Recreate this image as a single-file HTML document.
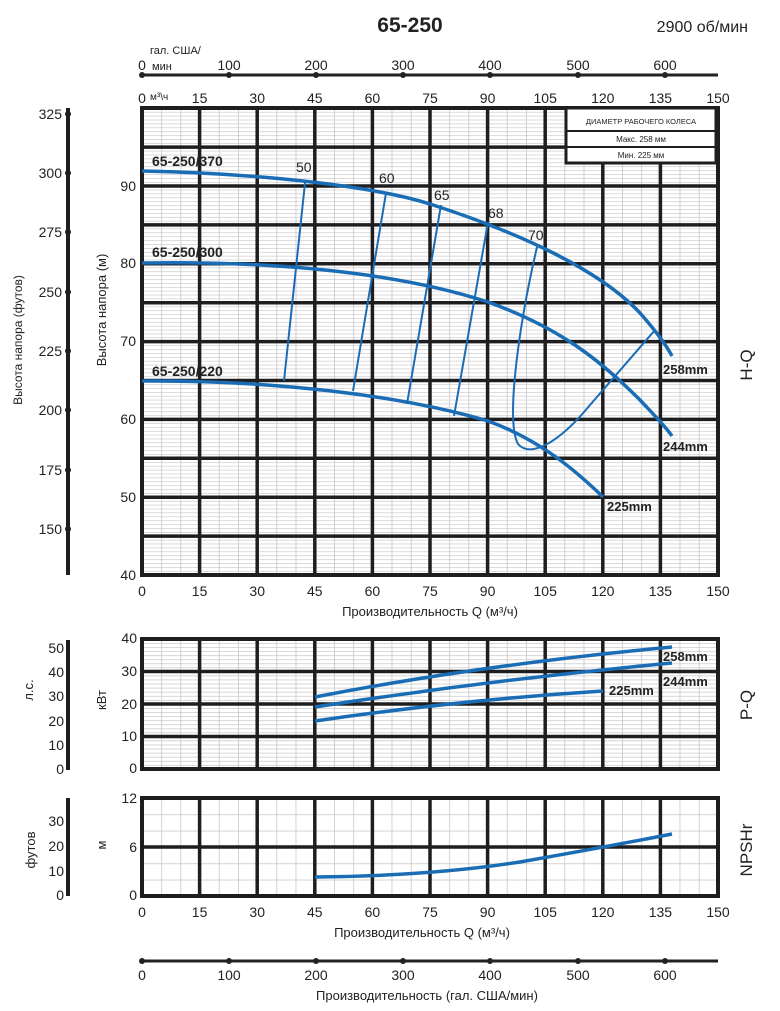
<!DOCTYPE html>
<html><head><meta charset="utf-8"><style>
html,body{margin:0;padding:0;background:#fff}
svg{display:block}
text{font-family:"Liberation Sans",sans-serif;fill:#222}
.t{font-size:14px}
.b{font-weight:bold}
</style></head><body>
<svg width="780" height="1011" viewBox="0 0 780 1011" xmlns="http://www.w3.org/2000/svg">
<defs>
<pattern id="gm" patternUnits="userSpaceOnUse" x="142" y="108" width="19.2" height="3.89"><line x1="0" y1="0" x2="19.2" y2="0" stroke="#c4c4c4" stroke-width="1.3"/><line x1="0" y1="0" x2="0" y2="3.89" stroke="#c4c4c4" stroke-width="1.5"/></pattern>
<pattern id="gp" patternUnits="userSpaceOnUse" x="142" y="639" width="19.2" height="4.0625"><line x1="0" y1="0" x2="19.2" y2="0" stroke="#c4c4c4" stroke-width="1.3"/><line x1="0" y1="0" x2="0" y2="4.0625" stroke="#c4c4c4" stroke-width="1.5"/></pattern>
<pattern id="gn" patternUnits="userSpaceOnUse" x="142" y="798" width="19.2" height="16.33"><line x1="0" y1="0" x2="19.2" y2="0" stroke="#c4c4c4" stroke-width="1.5"/><line x1="0" y1="0" x2="0" y2="16.33" stroke="#c4c4c4" stroke-width="1.5"/></pattern>
</defs>

<text x="410" y="32" text-anchor="middle" font-size="21" class="b">65-250</text>
<text x="748" y="32" text-anchor="end" font-size="16">2900 об/мин</text>

<!-- top gal axis -->
<text x="150" y="54" font-size="11">гал. США/</text>
<text x="152" y="70" font-size="11">мин</text>
<line x1="142" y1="75" x2="718" y2="75" stroke="#222" stroke-width="3"/>
<g fill="#222"><circle cx="142" cy="75" r="3"/><circle cx="229" cy="75" r="3"/><circle cx="316" cy="75" r="3"/><circle cx="403" cy="75" r="3"/><circle cx="490" cy="75" r="3"/><circle cx="578" cy="75" r="3"/><circle cx="665" cy="75" r="3"/></g>
<g class="t" text-anchor="middle"><text x="142" y="70">0</text><text x="229" y="70">100</text><text x="316" y="70">200</text><text x="403" y="70">300</text><text x="490" y="70">400</text><text x="578" y="70">500</text><text x="665" y="70">600</text></g>
<text x="150" y="100" font-size="10">м³\ч</text>
<g class="t" text-anchor="middle"><text x="142" y="103">0</text><text x="199.6" y="103">15</text><text x="257.2" y="103">30</text><text x="314.8" y="103">45</text><text x="372.4" y="103">60</text><text x="430" y="103">75</text><text x="487.6" y="103">90</text><text x="545.2" y="103">105</text><text x="602.8" y="103">120</text><text x="660.4" y="103">135</text><text x="718" y="103">150</text></g>

<!-- main grid -->
<rect x="142" y="108" width="576" height="467" fill="url(#gm)"/>
<g stroke="#1e1e1e" stroke-width="3.5">
<line x1="199.6" y1="108" x2="199.6" y2="575"/><line x1="257.2" y1="108" x2="257.2" y2="575"/><line x1="314.8" y1="108" x2="314.8" y2="575"/><line x1="372.4" y1="108" x2="372.4" y2="575"/><line x1="430" y1="108" x2="430" y2="575"/><line x1="487.6" y1="108" x2="487.6" y2="575"/><line x1="545.2" y1="108" x2="545.2" y2="575"/><line x1="602.8" y1="108" x2="602.8" y2="575"/><line x1="660.4" y1="108" x2="660.4" y2="575"/>
<line x1="142" y1="536.1" x2="718" y2="536.1"/><line x1="142" y1="497.2" x2="718" y2="497.2"/><line x1="142" y1="458.3" x2="718" y2="458.3"/><line x1="142" y1="419.4" x2="718" y2="419.4"/><line x1="142" y1="380.5" x2="718" y2="380.5"/><line x1="142" y1="341.6" x2="718" y2="341.6"/><line x1="142" y1="302.7" x2="718" y2="302.7"/><line x1="142" y1="263.8" x2="718" y2="263.8"/><line x1="142" y1="224.9" x2="718" y2="224.9"/><line x1="142" y1="186" x2="718" y2="186"/><line x1="142" y1="147.1" x2="718" y2="147.1"/>
</g>
<rect x="142" y="108" width="576" height="467" fill="none" stroke="#1e1e1e" stroke-width="4"/>
<g class="t" text-anchor="end"><text x="136" y="580">40</text><text x="136" y="502">50</text><text x="136" y="424">60</text><text x="136" y="346">70</text><text x="136" y="268">80</text><text x="136" y="191">90</text></g>
<g class="t" text-anchor="middle"><text x="142" y="596">0</text><text x="199.6" y="596">15</text><text x="257.2" y="596">30</text><text x="314.8" y="596">45</text><text x="372.4" y="596">60</text><text x="430" y="596">75</text><text x="487.6" y="596">90</text><text x="545.2" y="596">105</text><text x="602.8" y="596">120</text><text x="660.4" y="596">135</text><text x="718" y="596">150</text></g>
<text x="430" y="616" text-anchor="middle" font-size="13">Производительность Q (м³/ч)</text>

<!-- legend box -->
<rect x="566" y="108" width="150" height="55" fill="#fff" stroke="#1e1e1e" stroke-width="3"/>
<line x1="566" y1="131" x2="716" y2="131" stroke="#1e1e1e" stroke-width="2"/>
<line x1="566" y1="147" x2="716" y2="147" stroke="#1e1e1e" stroke-width="2"/>
<text x="641" y="124" text-anchor="middle" font-size="7.5">ДИАМЕТР РАБОЧЕГО КОЛЕСА</text>
<text x="641" y="142" text-anchor="middle" font-size="8">Макс. 258 мм</text>
<text x="641" y="158" text-anchor="middle" font-size="8">Мин. 225 мм</text>

<!-- feet axis -->
<line x1="68" y1="108" x2="68" y2="575" stroke="#1e1e1e" stroke-width="4"/>
<g fill="#1e1e1e"><circle cx="68" cy="114" r="3"/><circle cx="68" cy="173" r="3"/><circle cx="68" cy="232" r="3"/><circle cx="68" cy="292" r="3"/><circle cx="68" cy="351" r="3"/><circle cx="68" cy="410" r="3"/><circle cx="68" cy="470" r="3"/><circle cx="68" cy="529" r="3"/></g>
<g class="t" text-anchor="end"><text x="62" y="119">325</text><text x="62" y="178">300</text><text x="62" y="237">275</text><text x="62" y="297">250</text><text x="62" y="356">225</text><text x="62" y="415">200</text><text x="62" y="475">175</text><text x="62" y="534">150</text></g>
<text transform="translate(22,340) rotate(-90)" text-anchor="middle" font-size="12">Высота напора (футов)</text>
<text transform="translate(106,310) rotate(-90)" text-anchor="middle" font-size="13">Высота напора (м)</text>
<text transform="translate(752,365) rotate(-90)" text-anchor="middle" font-size="17">H-Q</text>

<!-- efficiency lines -->
<g fill="none" stroke="#1a6db5" stroke-width="2">
<path d="M305,183 L284,381"/>
<path d="M386,193 L353,391"/>
<path d="M441,205 L407,404"/>
<path d="M488,222 L454,416"/>
<path d="M537,247 C520,320 505,420 518,444 C530,458 558,444 590,405 L655,330"/>
</g>
<g class="t"><text x="296" y="172">50</text><text x="379" y="183">60</text><text x="434" y="200">65</text><text x="488" y="218">68</text><text x="528" y="240">70</text></g>

<!-- H-Q curves -->
<g fill="none" stroke="#1a6db5" stroke-width="3.5" stroke-linejoin="round">
<path d="M142,171 C250,173 370,185 430,204 C520,233 600,270 640,313 C655,330 665,343 672,356"/>
<path d="M142,263 C260,261 390,270 488,302 C560,328 600,360 640,400 C655,416 665,426 672,436"/>
<path d="M142,381 C270,380 400,395 488,421 C540,440 575,470 603,497"/>
</g>
<g class="t b"><text x="152" y="166">65-250/370</text><text x="152" y="257">65-250/300</text><text x="152" y="376">65-250/220</text>
<text x="663" y="374" font-size="13">258mm</text><text x="663" y="451" font-size="13">244mm</text><text x="607" y="511" font-size="13">225mm</text></g>

<!-- power chart -->
<rect x="142" y="639" width="576" height="130" fill="url(#gp)"/>
<g stroke="#1e1e1e" stroke-width="3.5">
<line x1="199.6" y1="639" x2="199.6" y2="769"/><line x1="257.2" y1="639" x2="257.2" y2="769"/><line x1="314.8" y1="639" x2="314.8" y2="769"/><line x1="372.4" y1="639" x2="372.4" y2="769"/><line x1="430" y1="639" x2="430" y2="769"/><line x1="487.6" y1="639" x2="487.6" y2="769"/><line x1="545.2" y1="639" x2="545.2" y2="769"/><line x1="602.8" y1="639" x2="602.8" y2="769"/><line x1="660.4" y1="639" x2="660.4" y2="769"/>
<line x1="142" y1="671.5" x2="718" y2="671.5"/><line x1="142" y1="704" x2="718" y2="704"/><line x1="142" y1="736.5" x2="718" y2="736.5"/>
</g>
<rect x="142" y="639" width="576" height="130" fill="none" stroke="#1e1e1e" stroke-width="4"/>
<g class="t" text-anchor="end"><text x="137" y="643">40</text><text x="137" y="676">30</text><text x="137" y="709">20</text><text x="137" y="741">10</text><text x="137" y="773">0</text></g>
<line x1="68" y1="640" x2="68" y2="770" stroke="#1e1e1e" stroke-width="4"/>
<g class="t" text-anchor="end"><text x="64" y="653">50</text><text x="64" y="677">40</text><text x="64" y="701">30</text><text x="64" y="726">20</text><text x="64" y="750">10</text><text x="64" y="774">0</text></g>
<text transform="translate(33,690) rotate(-90)" text-anchor="middle" font-size="13">л.с.</text>
<text transform="translate(106,700) rotate(-90)" text-anchor="middle" font-size="13">кВт</text>
<text transform="translate(752,705) rotate(-90)" text-anchor="middle" font-size="17">P-Q</text>
<g fill="none" stroke="#1a6db5" stroke-width="3.5">
<path d="M315,697 Q480,665 672,647"/>
<path d="M315,707 Q490,680 672,663"/>
<path d="M315,721 Q460,700 603,691"/>
</g>
<g class="b" font-size="13"><text x="663" y="661">258mm</text><text x="663" y="686">244mm</text><text x="609" y="695">225mm</text></g>

<!-- NPSH chart -->
<rect x="142" y="798" width="576" height="98" fill="url(#gn)"/>
<g stroke="#1e1e1e" stroke-width="3.5">
<line x1="199.6" y1="798" x2="199.6" y2="896"/><line x1="257.2" y1="798" x2="257.2" y2="896"/><line x1="314.8" y1="798" x2="314.8" y2="896"/><line x1="372.4" y1="798" x2="372.4" y2="896"/><line x1="430" y1="798" x2="430" y2="896"/><line x1="487.6" y1="798" x2="487.6" y2="896"/><line x1="545.2" y1="798" x2="545.2" y2="896"/><line x1="602.8" y1="798" x2="602.8" y2="896"/><line x1="660.4" y1="798" x2="660.4" y2="896"/>
<line x1="142" y1="847" x2="718" y2="847"/>
</g>
<rect x="142" y="798" width="576" height="98" fill="none" stroke="#1e1e1e" stroke-width="4"/>
<g class="t" text-anchor="end"><text x="137" y="803">12</text><text x="137" y="852">6</text><text x="137" y="900">0</text></g>
<line x1="68" y1="798" x2="68" y2="896" stroke="#1e1e1e" stroke-width="4"/>
<g class="t" text-anchor="end"><text x="64" y="826">30</text><text x="64" y="851">20</text><text x="64" y="876">10</text><text x="64" y="900">0</text></g>
<text transform="translate(35,850) rotate(-90)" text-anchor="middle" font-size="13">футов</text>
<text transform="translate(106,845) rotate(-90)" text-anchor="middle" font-size="13">м</text>
<text transform="translate(752,850) rotate(-90)" text-anchor="middle" font-size="17">NPSHr</text>
<path d="M315,877 Q430,876 520,862 Q600,848 672,834" fill="none" stroke="#1a6db5" stroke-width="3.5"/>
<g class="t" text-anchor="middle"><text x="142" y="917">0</text><text x="199.6" y="917">15</text><text x="257.2" y="917">30</text><text x="314.8" y="917">45</text><text x="372.4" y="917">60</text><text x="430" y="917">75</text><text x="487.6" y="917">90</text><text x="545.2" y="917">105</text><text x="602.8" y="917">120</text><text x="660.4" y="917">135</text><text x="718" y="917">150</text></g>
<text x="422" y="937" text-anchor="middle" font-size="13">Производительность Q (м³/ч)</text>

<!-- bottom gal axis -->
<line x1="142" y1="961" x2="718" y2="961" stroke="#222" stroke-width="3"/>
<g fill="#222"><circle cx="142" cy="961" r="3"/><circle cx="229" cy="961" r="3"/><circle cx="316" cy="961" r="3"/><circle cx="403" cy="961" r="3"/><circle cx="490" cy="961" r="3"/><circle cx="578" cy="961" r="3"/><circle cx="665" cy="961" r="3"/></g>
<g class="t" text-anchor="middle"><text x="142" y="980">0</text><text x="229" y="980">100</text><text x="316" y="980">200</text><text x="403" y="980">300</text><text x="490" y="980">400</text><text x="578" y="980">500</text><text x="665" y="980">600</text></g>
<text x="427" y="1000" text-anchor="middle" font-size="13">Производительность (гал. США/мин)</text>
</svg>
</body></html>
